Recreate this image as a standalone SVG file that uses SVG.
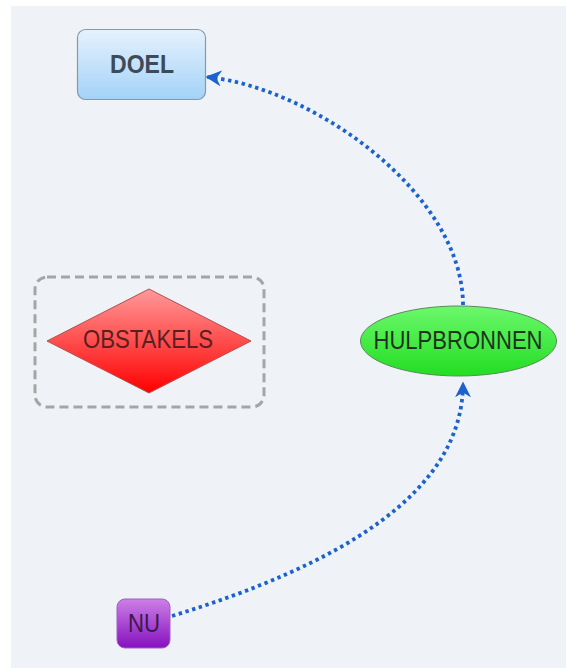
<svg xmlns="http://www.w3.org/2000/svg" width="566" height="668" viewBox="0 0 566 668">
<defs>
<style>
.lbl{font-family:"Liberation Sans",Arial,sans-serif;font-size:25px;text-anchor:middle}
.conn{fill:none;stroke:#1b62cc;stroke-width:3.8;stroke-dasharray:3.4 3.6}
</style>
<linearGradient id="gBlue" x1="0" y1="0" x2="0" y2="1"><stop offset="0" stop-color="#e6f2fd"/><stop offset="1" stop-color="#a3d2f8"/></linearGradient>
<linearGradient id="gRed" x1="0" y1="0" x2="0" y2="1"><stop offset="0" stop-color="#ff9a9a"/><stop offset="1" stop-color="#ff0000"/></linearGradient>
<linearGradient id="gGreen" x1="0" y1="0" x2="0" y2="1"><stop offset="0" stop-color="#6cf86c"/><stop offset="1" stop-color="#22dd22"/></linearGradient>
<linearGradient id="gPurple" x1="0" y1="0" x2="0" y2="1"><stop offset="0" stop-color="#cc80e6"/><stop offset="1" stop-color="#8610bf"/></linearGradient>
<marker id="arr" viewBox="0 0 10 10" refX="9" refY="5" markerWidth="4.2" markerHeight="4.2" orient="auto" markerUnits="strokeWidth">
<path d="M0,0 L10,5 L0,10 L3,5 z" fill="#1b62cc"/>
</marker>
</defs>
<rect x="0" y="0" width="566" height="668" fill="#ffffff"/>
<rect x="11" y="6" width="555" height="662" fill="#eff2f7"/>
<g id="connectors">
<path class="conn" d="M172,616 C335,566 463,495 463,383" marker-end="url(#arr)"/>
<path class="conn" d="M463,305 C463,195 315,88 207,77" marker-end="url(#arr)"/>
</g>
<g id="doel">
<rect x="77.5" y="29.5" width="128" height="70" rx="8" fill="url(#gBlue)" stroke="#8898a8" stroke-width="1.2"/>
<text class="lbl" x="142" y="73" font-weight="bold" fill="#3d4b59" textLength="64" lengthAdjust="spacingAndGlyphs">DOEL</text>
</g>
<g id="obstakels-group">
<rect x="35" y="277" width="229" height="130" rx="12" fill="none" stroke="#a5a5a5" stroke-width="3" stroke-dasharray="9 5"/>
</g>
<g id="obstakels">
<polygon points="47,341 149,289 251,341 149,393" fill="url(#gRed)" stroke="#b05050" stroke-width="1"/>
<text class="lbl" x="148" y="348" fill="#5a1f1f" textLength="130" lengthAdjust="spacingAndGlyphs">OBSTAKELS</text>
</g>
<g id="hulpbronnen">
<ellipse cx="458.5" cy="341" rx="98" ry="35" fill="url(#gGreen)" stroke="#5a8a5a" stroke-width="1"/>
<text class="lbl" x="458" y="349" fill="#1f3320" textLength="169" lengthAdjust="spacingAndGlyphs">HULPBRONNEN</text>
</g>
<g id="nu">
<rect x="117" y="599" width="53" height="49" rx="8" fill="url(#gPurple)" stroke="#a060c0" stroke-width="1"/>
<text class="lbl" x="144" y="632" fill="#3a1a4a" textLength="32" lengthAdjust="spacingAndGlyphs">NU</text>
</g>
</svg>
